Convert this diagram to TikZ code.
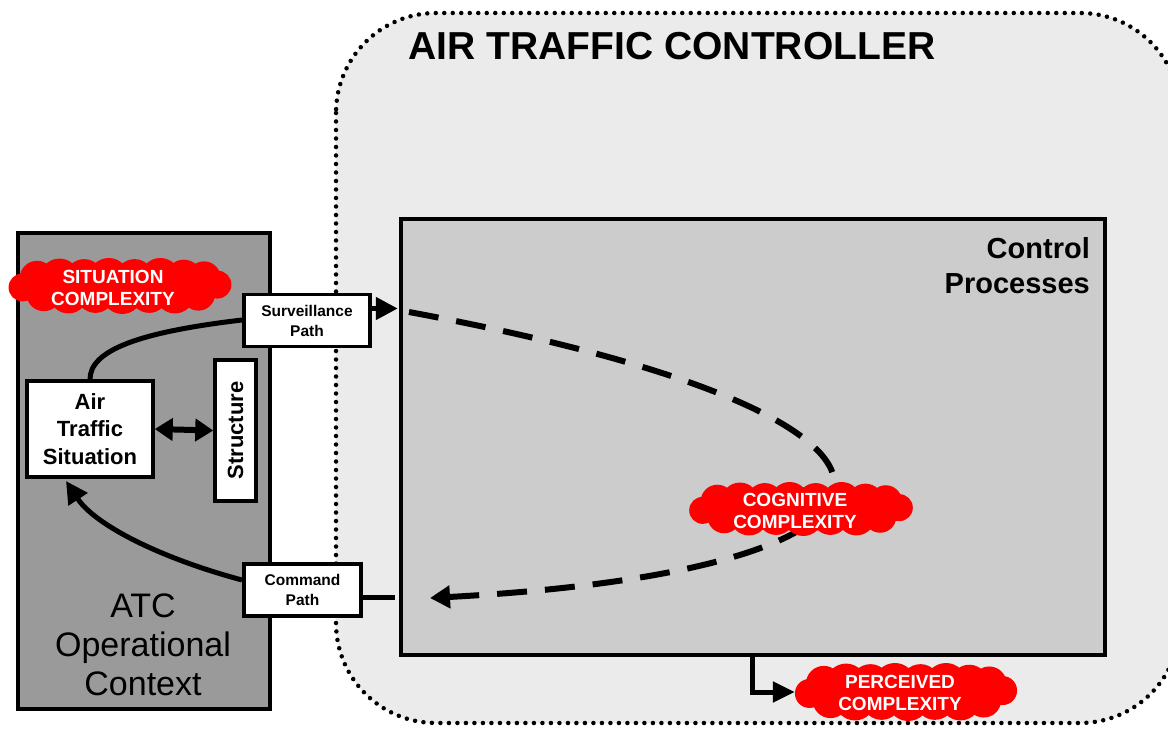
\documentclass[tikz,border=0pt]{standalone}
\usepackage{fontspec}
\setmainfont{Liberation Sans}
\usetikzlibrary{arrows.meta,calc}
\definecolor{outergray}{HTML}{EBEBEB}
\definecolor{cpgray}{HTML}{CCCCCC}
\definecolor{atcgray}{HTML}{9A9A9A}
\definecolor{cloudred}{HTML}{FF0000}
% red blob: center x, center y, half width, half height
\newcommand{\redblob}[4]{%
  \begin{scope}[shift={(#1,#2)}]
    \fill[cloudred] (0,0) ellipse [x radius={0.97*#3pt}, y radius={0.8*#4pt}];
    \foreach \fx/\fr in {-0.74/0.62,-0.54/0.7,-0.32/0.68,-0.1/0.72,0.13/0.68,0.36/0.72,0.57/0.66,0.75/0.6}
      {\fill[cloudred] ({\fx*#3},{-0.28*#4}) circle[radius={\fr*#4pt}];}
    \foreach \fx/\fr in {-0.68/0.62,-0.46/0.7,-0.22/0.68,0.02/0.72,0.26/0.68,0.49/0.7,0.7/0.6}
      {\fill[cloudred] ({\fx*#3},{0.28*#4}) circle[radius={\fr*#4pt}];}
    \fill[cloudred] ({-0.87*#3},0.05*#4) circle[radius={0.5*#4pt}];
    \fill[cloudred] ({0.87*#3},-0.05*#4) circle[radius={0.5*#4pt}];
  \end{scope}}
\begin{document}
\begin{tikzpicture}[x=1pt,y=-1pt,
  box/.style={draw=black, line width=3.5pt, inner sep=0pt, align=center},
  whitebox/.style={box, fill=white},
  cloudanchor/.style={draw=none, inner sep=0pt},
  cloudtext/.style={text=white, align=center, inner sep=0pt, font=\bfseries\fontsize{19}{22}\selectfont},
  solidline/.style={line width=5pt},
  bigtip/.style={-{Triangle[length=22pt,width=22pt]}},
  dashline/.style={line width=6pt, dash pattern=on 30pt off 18pt}
]
\useasboundingbox (0,0) rectangle (1168,730);
% outer dotted region
\draw[fill=outergray, line width=4.5pt, dash pattern=on 0pt off 8.5pt, line cap=round, rounded corners=100pt] (336,13) rectangle (1180,723);
\node[font=\bfseries\fontsize{39}{44}\selectfont, inner sep=0pt] (title) at (672,46) {AIR TRAFFIC CONTROLLER};
% main boxes
\node[box, fill=atcgray, minimum width=252pt, minimum height=476pt] (atc) at (144,471) {};
\node[box, fill=cpgray, minimum width=704pt, minimum height=436pt] (cp) at (753,437) {};
\node[anchor=east, align=right, inner sep=0pt, font=\bfseries\fontsize{29}{35}\selectfont] (cptext) at (1090,266) {Control\\Processes};
\node[align=center, inner sep=0pt, font=\fontsize{34}{39}\selectfont] (atctext) at (143,645) {ATC\\Operational\\Context};
% inner boxes
\node[whitebox, minimum width=126pt, minimum height=96pt, font=\bfseries\fontsize{22}{27.5}\selectfont] (ats) at (90,429) {Air\\Traffic\\Situation};
\node[whitebox, rotate=90, minimum width=141pt, minimum height=41pt, font=\bfseries\fontsize{22}{27}\selectfont] (struct) at (235.5,430.5) {Structure};
% connectors inside ATC
\draw[solidline] (ats.north) .. controls (90,350) and (140,332) .. (242,320);
\coordinate (cmdin) at (242,580);
\coordinate (atsin) at (66,481);
\draw[solidline, bigtip] (cmdin) .. controls (160,558) and (95,525) .. (atsin);
\draw[line width=6pt, {Triangle[length=18pt,width=22pt]}-{Triangle[length=18pt,width=22pt]}] (ats.east) -- (struct.north);
% surveillance / command boxes
\node[whitebox, minimum width=126pt, minimum height=52pt, font=\bfseries\fontsize{15.5}{20}\selectfont] (surv) at (307,320.5) {Surveillance\\Path};
\node[whitebox, minimum width=117pt, minimum height=52pt, font=\bfseries\fontsize{15.5}{19.5}\selectfont] (cmd) at (302.5,590) {Command\\Path};
\coordinate (survout) at ($(surv.east)+(0,-12)$);
\coordinate (cpin) at ($(cp.west|-survout)+(-1.5,0)$);
\draw[solidline, bigtip] (survout) -- (cpin);
\coordinate (cmdout) at ($(cmd.east)+(0,7)$);
\coordinate (cpout) at ($(cp.west|-cmdout)+(-4,0)$);
\draw[solidline] (cmdout) -- (cpout);
% dashed loop
\coordinate (dstart) at (409,312);
\coordinate (dend) at (430,598);
\draw[dashline, -{Triangle[length=20pt,width=22pt]}] (dstart) .. controls (990,420) and (950,570) .. (dend);
% clouds
\redblob{120}{286}{112}{28}
\node[cloudanchor, minimum width=224pt, minimum height=56pt] (sitcloud) at (120,286) {};
\node[cloudtext] (sittext) at (113,288) {SITUATION\\COMPLEXITY};
\redblob{801}{509}{113}{27}
\node[cloudanchor, minimum width=226pt, minimum height=54pt] (cogcloud) at (801,509) {};
\node[cloudtext] (cogtext) at (795,511) {COGNITIVE\\COMPLEXITY};
\redblob{906}{692}{111}{29}
\node[cloudanchor, minimum width=222pt, minimum height=58pt] (perccloud) at (906,692) {};
\node[cloudtext] (perctext) at (900,693) {PERCEIVED\\COMPLEXITY};
% perceived arrow
\coordinate (cpdown) at (752,656);
\draw[solidline, -{Triangle[length=22pt,width=20pt]}] (cpdown) |- (perccloud.west);
\end{tikzpicture}
\end{document}
